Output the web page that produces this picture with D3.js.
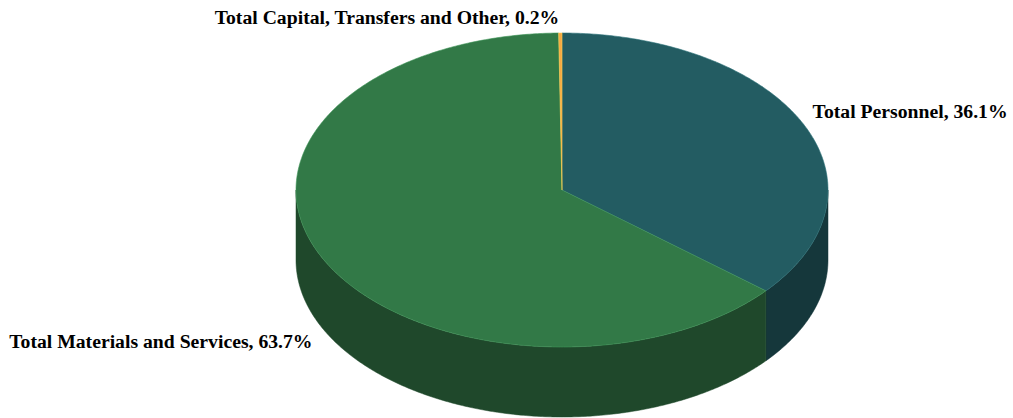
<!DOCTYPE html>
<html>
<head>
<meta charset="utf-8">
<script src="https://cdn.jsdelivr.net/npm/d3@7"></script>
<style>
  html, body { margin: 0; padding: 0; background: #ffffff; }
  svg { display: block; }
  .lbl { font-family: "Liberation Serif", "Times New Roman", serif; font-weight: bold; font-size: 19.7px; fill: #000; }
</style>
</head>
<body>
<svg id="chart" width="1013" height="418"></svg>
<script>
// Budget breakdown by expenditure category (percent of total)
const categories = ["Total Personnel", "Total Materials and Services", "Total Capital, Transfers and Other"];
const shares = [36.1, 63.7, 0.2];
const topColors = ["#235c62", "#327947", "#f5a843"];
const sideColors = ["#15373b", "#1f482b", "#93652a"];

const W = 1013, H = 418;
const cx = 562, cy = 190, rx = 266, ry = 157, depth = 70;

const svg = d3.select("#chart");

const data = categories.map((c, i) => ({ name: c, value: shares[i], i }));
const pie = d3.pie().sort(null).value(d => d.value).startAngle(0).endAngle(2 * Math.PI);
const arcs = pie(data);

// projection of an angle (clockwise from 12 o'clock) onto the tilted disc
const px = a => cx + rx * Math.sin(a);
const py = (a, z) => cy - ry * Math.cos(a) + (z || 0);

const line = d3.line().x(d => d[0]).y(d => d[1]);

function rimPoints(a0, a1, z) {
  const n = Math.max(2, Math.ceil(Math.abs(a1 - a0) / 0.01));
  const pts = [];
  for (let k = 0; k <= n; k++) {
    const a = a0 + (a1 - a0) * k / n;
    pts.push([px(a), py(a, z)]);
  }
  return pts;
}

// outer walls: only the front half (angles between pi/2 and 3pi/2) faces the viewer
const gWalls = svg.append("g");
arcs.forEach(d => {
  const s = Math.max(d.startAngle, Math.PI / 2);
  const e = Math.min(d.endAngle, 3 * Math.PI / 2);
  if (e <= s) return;
  const pts = rimPoints(s, e, 0).concat(rimPoints(e, s, depth));
  gWalls.append("path")
    .attr("d", line(pts) + "Z")
    .attr("fill", sideColors[d.data.i])
    .attr("stroke", sideColors[d.data.i])
    .attr("stroke-width", 0.5);
});

// top faces
const gTop = svg.append("g");
arcs.forEach(d => {
  const pts = [[cx, cy]].concat(rimPoints(d.startAngle, d.endAngle, 0));
  gTop.append("path")
    .attr("d", line(pts) + "Z")
    .attr("fill", topColors[d.data.i])
    .attr("stroke", d3.color(topColors[d.data.i]).brighter(0.6))
    .attr("stroke-width", 0.6)
    .attr("stroke-linejoin", "round");
});

// data labels placed just outside the rim, front labels below the wall
const gLbl = svg.append("g");
arcs.forEach(d => {
  const a = (d.startAngle + d.endAngle) / 2;
  const s = Math.sin(a), c = Math.cos(a);
  const ax = cx + (rx + 5) * s;
  const ay = cy - 10 - (ry + 6) * c + (c < 0 ? depth + 21 : 0);
  const right = s >= 0;
  gLbl.append("text")
    .attr("class", "lbl")
    .attr("x", ax + (right ? 5 : -1 - 4 * Math.abs(s)))
    .attr("y", ay)
    .attr("dy", "0.35em")
    .attr("text-anchor", right ? "start" : "end")
    .text(`${d.data.name}, ${d.data.value.toFixed(1)}%`);
});
</script>
</body>
</html>
